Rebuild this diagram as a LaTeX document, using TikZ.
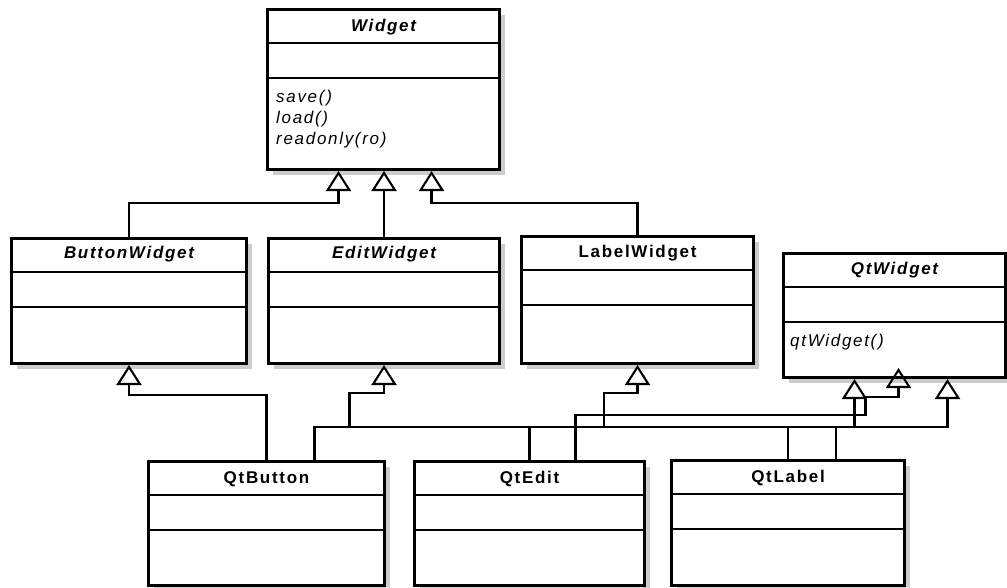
\documentclass[tikz,border=0pt]{standalone}
\usepackage{fontspec}
\setmainfont{Liberation Sans}[LetterSpace=10]
\usepackage{tikz}
\usetikzlibrary{arrows.meta,positioning,shadows}
\tikzset{
  classbox/.style={
    draw,
    line width=3pt,
    fill=white,
    anchor=north west,
    inner sep=0pt,
    drop shadow={shadow xshift=5pt, shadow yshift=-5pt, fill=black!20, opacity=1}
  },
  classname/.style={anchor=base, inner sep=0pt, font=\fontsize{17}{21}\selectfont\bfseries},
  classops/.style={anchor=north west, align=left, inner sep=0pt, font=\fontsize{17}{21}\selectfont\itshape},
  compline/.style={line width=2.6pt},
  inherit/.style={line width=2.1pt, -{Triangle[open, length=20pt, width=25pt, line width=2.1pt]}}
}
\begin{document}
\begin{tikzpicture}[x=1pt, y=-1pt]
  \path[use as bounding box, fill=white] (0,0) rectangle (1007,587);

  \node[classbox, minimum width=232pt, minimum height=160pt] (widget) at (266,8) {};
  \node[classbox, minimum width=235pt, minimum height=125pt] (buttonw) at (10,237) {};
  \node[classbox, minimum width=231pt, minimum height=125pt] (editw) at (267,237) {};
  \node[classbox, minimum width=232pt, minimum height=127pt] (labelw) at (520,235) {};
  \node[classbox, minimum width=222pt, minimum height=124pt] (qtwidget) at (782,252) {};
  \node[classbox, minimum width=236pt, minimum height=124pt] (qtbutton) at (147,460) {};
  \node[classbox, minimum width=230pt, minimum height=124pt] (qtedit) at (413,460) {};
  \node[classbox, minimum width=233pt, minimum height=125pt] (qtlabel) at (670,459) {};

  \foreach \c in {widget,buttonw,editw,labelw,qtwidget,qtbutton,qtedit,qtlabel}{
    \draw[compline] ([yshift=-35pt]\c.north west) -- ([yshift=-35pt]\c.north east);
    \draw[compline] ([yshift=-70pt]\c.north west) -- ([yshift=-70pt]\c.north east);
  }

  \node[classname] (widgetname) at ([yshift=-23pt]widget.north) {\itshape Widget};
  \node[classname] (buttonwname) at ([yshift=-21pt]buttonw.north) {\itshape ButtonWidget};
  \node[classname] (editwname) at ([yshift=-21pt]editw.north) {\itshape EditWidget};
  \node[classname] (labelwname) at ([yshift=-22pt]labelw.north) {LabelWidget};
  \node[classname] (qtwidgetname) at ([yshift=-22pt]qtwidget.north) {\itshape QtWidget};
  \node[classname] (qtbuttonname) at ([yshift=-23pt]qtbutton.north) {QtButton};
  \node[classname] (qteditname) at ([yshift=-23pt]qtedit.north) {QtEdit};
  \node[classname] (qtlabelname) at ([yshift=-23pt]qtlabel.north) {QtLabel};

  \node[classops] (widgetops) at ([xshift=10pt, yshift=-82pt]widget.north west) {save()\\load()\\readonly(ro)};
  \node[classops] (qtwidgetops) at ([xshift=8pt, yshift=-82pt]qtwidget.north west) {qtWidget()};

  \draw[inherit] (buttonw.north) -- ++(0,-34) -| ([xshift=-45pt]widget.south);
  \draw[inherit] (editw.north) -- (editw.north |- widget.south);
  \draw[inherit] (labelw.north) -- ++(0,-32) -| ([xshift=48pt]widget.south);

  \draw[inherit] (qtbutton.north) -- ++(0,-65) -| (buttonw.south);
  \draw[inherit] ([xshift=48pt]qtbutton.north) -- ++(0,-33) -| ([xshift=53pt]qtwidget.south);
  \draw[inherit] (qtedit.north) -- ++(0,-33) -- ++(-180,0) -- ++(0,-34) -| (editw.south);
  \draw[inherit] ([xshift=46pt]qtedit.north) -- ++(0,-45) -- ++(290,0) -- ++(0,-18) -| ([xshift=4pt, yshift=11pt]qtwidget.south);
  \draw[inherit] (qtlabel.north) -- ++(0,-32) -- ++(-184,0) -- ++(0,-34) -| (labelw.south);
  \draw[inherit] ([xshift=48pt]qtlabel.north) -- ++(0,-32) -| ([xshift=-40pt]qtwidget.south);
\end{tikzpicture}
\end{document}
